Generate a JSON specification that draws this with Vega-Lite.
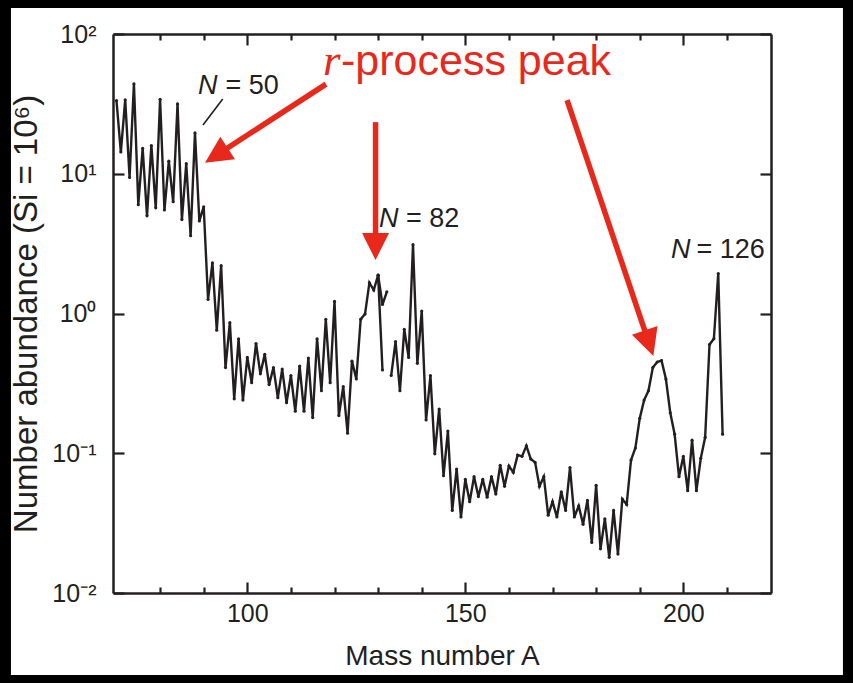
{
  "$schema": "https://vega.github.io/schema/vega-lite/v6.json",
  "width": 658,
  "height": 559,
  "autosize": "none",
  "padding": {"left": 113, "top": 34, "right": 82, "bottom": 90},
  "background": "#000000",
  "config": {
    "view": {"stroke": null, "fill": "#ffffff"},
    "font": "Liberation Sans",
    "axis": {"grid": false, "labelOverlap": false, "labelFlush": false, "tickColor": "#231f20", "tickWidth": 2.2, "domainColor": "#231f20", "domainWidth": 2.5, "labelColor": "#231f20", "titleColor": "#231f20", "labelFont": "Liberation Sans", "titleFont": "Liberation Sans", "titleFontWeight": "normal", "labelFontSize": 25, "titleFontSize": 28}
  },
  "resolve": {"axis": {"x": "independent", "y": "independent"}},
  "datasets": {
    "abund": [
      {"A": 70, "v": 33.4, "seg": "a"}, {"A": 71, "v": 14.3, "seg": "a"}, {"A": 72, "v": 33.8, "seg": "a"}, {"A": 73, "v": 9.4, "seg": "a"},
      {"A": 74, "v": 44, "seg": "a"}, {"A": 75, "v": 6.0, "seg": "a"}, {"A": 76, "v": 15.2, "seg": "a"}, {"A": 77, "v": 5.0, "seg": "a"},
      {"A": 78, "v": 15.9, "seg": "a"}, {"A": 79, "v": 5.7, "seg": "a"}, {"A": 80, "v": 34.1, "seg": "a"}, {"A": 81, "v": 5.5, "seg": "a"},
      {"A": 82, "v": 12.3, "seg": "a"}, {"A": 83, "v": 6.3, "seg": "a"}, {"A": 84, "v": 31.6, "seg": "a"}, {"A": 85, "v": 4.7, "seg": "a"},
      {"A": 86, "v": 11.8, "seg": "a"}, {"A": 87, "v": 3.6, "seg": "a"}, {"A": 88, "v": 19.6, "seg": "a"}, {"A": 89, "v": 4.6, "seg": "a"},
      {"A": 90, "v": 5.8, "seg": "a"}, {"A": 91, "v": 1.26, "seg": "a"}, {"A": 92, "v": 2.3, "seg": "a"}, {"A": 93, "v": 0.76, "seg": "a"},
      {"A": 94, "v": 2.2, "seg": "a"}, {"A": 95, "v": 0.41, "seg": "a"}, {"A": 96, "v": 0.86, "seg": "a"}, {"A": 97, "v": 0.245, "seg": "a"},
      {"A": 98, "v": 0.66, "seg": "a"}, {"A": 99, "v": 0.24, "seg": "a"}, {"A": 100, "v": 0.485, "seg": "a"}, {"A": 101, "v": 0.32, "seg": "a"},
      {"A": 102, "v": 0.61, "seg": "a"}, {"A": 103, "v": 0.37, "seg": "a"}, {"A": 104, "v": 0.51, "seg": "a"}, {"A": 105, "v": 0.31, "seg": "a"},
      {"A": 106, "v": 0.41, "seg": "a"}, {"A": 107, "v": 0.25, "seg": "a"}, {"A": 108, "v": 0.40, "seg": "a"}, {"A": 109, "v": 0.23, "seg": "a"},
      {"A": 110, "v": 0.36, "seg": "a"}, {"A": 111, "v": 0.20, "seg": "a"}, {"A": 112, "v": 0.42, "seg": "a"}, {"A": 113, "v": 0.20, "seg": "a"},
      {"A": 114, "v": 0.48, "seg": "a"}, {"A": 115, "v": 0.18, "seg": "a"}, {"A": 116, "v": 0.66, "seg": "a"}, {"A": 117, "v": 0.28, "seg": "a"},
      {"A": 118, "v": 0.91, "seg": "a"}, {"A": 119, "v": 0.32, "seg": "a"}, {"A": 120, "v": 1.22, "seg": "a"}, {"A": 121, "v": 0.186, "seg": "a"},
      {"A": 122, "v": 0.30, "seg": "a"}, {"A": 123, "v": 0.139, "seg": "a"}, {"A": 124, "v": 0.456, "seg": "a"}, {"A": 125, "v": 0.34, "seg": "a"},
      {"A": 126, "v": 0.91, "seg": "a"}, {"A": 127, "v": 0.99, "seg": "a"}, {"A": 128, "v": 1.66, "seg": "a"}, {"A": 129, "v": 1.47, "seg": "a"},
      {"A": 130, "v": 1.88, "seg": "a"}, {"A": 131, "v": 0.394, "seg": "a"},
      {"A": 130, "v": 1.88, "seg": "b"}, {"A": 131, "v": 1.16, "seg": "b"}, {"A": 132, "v": 1.43, "seg": "b"},
      {"A": 133, "v": 0.36, "seg": "c"}, {"A": 134, "v": 0.63, "seg": "c"}, {"A": 135, "v": 0.28, "seg": "c"}, {"A": 136, "v": 0.77, "seg": "c"},
      {"A": 137, "v": 0.485, "seg": "c"}, {"A": 138, "v": 3.11, "seg": "c"}, {"A": 139, "v": 0.44, "seg": "c"}, {"A": 140, "v": 1.04, "seg": "c"},
      {"A": 141, "v": 0.173, "seg": "c"}, {"A": 142, "v": 0.36, "seg": "c"}, {"A": 143, "v": 0.099, "seg": "c"}, {"A": 144, "v": 0.207, "seg": "c"},
      {"A": 145, "v": 0.069, "seg": "c"}, {"A": 146, "v": 0.144, "seg": "c"}, {"A": 147, "v": 0.039, "seg": "c"}, {"A": 148, "v": 0.077, "seg": "c"},
      {"A": 149, "v": 0.035, "seg": "c"}, {"A": 150, "v": 0.065, "seg": "c"}, {"A": 151, "v": 0.045, "seg": "c"}, {"A": 152, "v": 0.068, "seg": "c"},
      {"A": 153, "v": 0.049, "seg": "c"}, {"A": 154, "v": 0.065, "seg": "c"}, {"A": 155, "v": 0.0485, "seg": "c"}, {"A": 156, "v": 0.068, "seg": "c"},
      {"A": 157, "v": 0.051, "seg": "c"}, {"A": 158, "v": 0.082, "seg": "c"}, {"A": 159, "v": 0.058, "seg": "c"}, {"A": 160, "v": 0.081, "seg": "c"},
      {"A": 161, "v": 0.073, "seg": "c"}, {"A": 162, "v": 0.097, "seg": "c"}, {"A": 163, "v": 0.095, "seg": "c"}, {"A": 164, "v": 0.113, "seg": "c"},
      {"A": 165, "v": 0.091, "seg": "c"}, {"A": 166, "v": 0.086, "seg": "c"}, {"A": 167, "v": 0.058, "seg": "c"}, {"A": 168, "v": 0.068, "seg": "c"},
      {"A": 169, "v": 0.036, "seg": "c"}, {"A": 170, "v": 0.045, "seg": "c"}, {"A": 171, "v": 0.035, "seg": "c"}, {"A": 172, "v": 0.053, "seg": "c"},
      {"A": 173, "v": 0.039, "seg": "c"}, {"A": 174, "v": 0.079, "seg": "c"}, {"A": 175, "v": 0.035, "seg": "c"}, {"A": 176, "v": 0.042, "seg": "c"},
      {"A": 177, "v": 0.031, "seg": "c"}, {"A": 178, "v": 0.046, "seg": "c"}, {"A": 179, "v": 0.023, "seg": "c"}, {"A": 180, "v": 0.059, "seg": "c"},
      {"A": 181, "v": 0.0207, "seg": "c"}, {"A": 182, "v": 0.034, "seg": "c"}, {"A": 183, "v": 0.018, "seg": "c"}, {"A": 184, "v": 0.039, "seg": "c"},
      {"A": 185, "v": 0.019, "seg": "c"}, {"A": 186, "v": 0.047, "seg": "c"}, {"A": 187, "v": 0.043, "seg": "c"}, {"A": 188, "v": 0.0895, "seg": "c"},
      {"A": 189, "v": 0.109, "seg": "c"}, {"A": 190, "v": 0.178, "seg": "c"}, {"A": 191, "v": 0.24, "seg": "c"}, {"A": 192, "v": 0.28, "seg": "c"},
      {"A": 193, "v": 0.41, "seg": "c"}, {"A": 194, "v": 0.45, "seg": "c"}, {"A": 195, "v": 0.46, "seg": "c"}, {"A": 196, "v": 0.34, "seg": "c"},
      {"A": 197, "v": 0.195, "seg": "c"}, {"A": 198, "v": 0.137, "seg": "c"}, {"A": 199, "v": 0.068, "seg": "c"}, {"A": 200, "v": 0.095, "seg": "c"},
      {"A": 201, "v": 0.054, "seg": "c"}, {"A": 202, "v": 0.124, "seg": "c"}, {"A": 203, "v": 0.054, "seg": "c"}, {"A": 204, "v": 0.092, "seg": "c"},
      {"A": 205, "v": 0.13, "seg": "c"}, {"A": 206, "v": 0.60, "seg": "c"}, {"A": 207, "v": 0.66, "seg": "c"}, {"A": 208, "v": 1.93, "seg": "c"},
      {"A": 209, "v": 0.137, "seg": "c"}
    ],
    "panel": [{"x1": 45.8, "x2": 236.6, "y1": 153.5, "y2": 0.00259}],
    "leader": [{"A1": 89.84, "v1": 22.3, "A2": 94.36, "v2": 34.3}],
    "shafts": [
      {"A1": 118.05, "v1": 43.8, "A2": 94.15, "v2": 14.36},
      {"A1": 129.41, "v1": 23.4, "A2": 129.41, "v2": 3.36},
      {"A1": 173.33, "v1": 33.7, "A2": 191.65, "v2": 0.678}
    ],
    "heads": [
      {"id": "a", "A": 90.3, "v": 12.0},
      {"id": "b", "A": 129.41, "v": 2.41},
      {"id": "c", "A": 193.12, "v": 0.497}
    ],
    "nlab": [
      {"A": 88.7, "v": 37.2, "t": "N"},
      {"A": 130.2, "v": 4.18, "t": "N"},
      {"A": 197.18, "v": 2.49, "t": "N"}
    ],
    "nval": [
      {"A": 95.0, "v": 37.2, "t": "= 50"},
      {"A": 136.4, "v": 4.18, "t": "= 82"},
      {"A": 203.0, "v": 2.49, "t": "= 126"}
    ],
    "rlab": [{"A": 117.37, "v": 50.9, "t": "r"}],
    "plab": [{"A": 121.49, "v": 50.9, "t": "-process peak"}]
  },
  "layer": [
    {
      "data": {"name": "panel"},
      "mark": {"type": "rect", "color": "#ffffff"},
      "encoding": {
        "x": {"field": "x1", "type": "quantitative", "scale": {"domain": [69.2, 220.1], "nice": false, "zero": false}, "axis": null},
        "x2": {"field": "x2"},
        "y": {"field": "y1", "type": "quantitative", "scale": {"type": "log", "domain": [0.01, 100], "nice": false}, "axis": null},
        "y2": {"field": "y2"}
      }
    },
    {
      "data": {"name": "abund"},
      "mark": {"type": "line", "color": "#231f20", "strokeWidth": 2.4, "strokeJoin": "miter"},
      "encoding": {
        "x": {"field": "A", "type": "quantitative", "scale": {"domain": [69.2, 220.1], "nice": false, "zero": false},
          "axis": {"orient": "bottom", "zindex": 1, "values": [100, 150, 200], "tickSize": -11, "labelPadding": 19, "title": "Mass number A", "titlePadding": 16}},
        "y": {"field": "v", "type": "quantitative", "scale": {"type": "log", "domain": [0.01, 100], "nice": false},
          "axis": {"orient": "left", "zindex": 1, "values": [0.01, 0.1, 1, 10, 100], "tickSize": -11, "labelPadding": 28,
            "labelExpr": "datum.value > 50 ? '10²' : datum.value > 5 ? '10¹' : datum.value > 0.5 ? '10⁰' : datum.value > 0.05 ? '10⁻¹' : '10⁻²'",
            "title": "Number abundance (Si = 10⁶)", "titleFontSize": 33, "titlePadding": 8}},
        "detail": {"field": "seg", "type": "nominal"}
      }
    },
    {
      "data": {"name": "abund"},
      "mark": {"type": "point", "filled": true, "size": 10, "color": "#231f20", "opacity": 1},
      "encoding": {
        "x": {"field": "A", "type": "quantitative", "scale": {"domain": [69.2, 220.1], "nice": false, "zero": false},
          "axis": {"orient": "top", "zindex": 1, "values": [100, 150, 200], "tickSize": -11, "labels": false, "title": null}},
        "y": {"field": "v", "type": "quantitative", "scale": {"type": "log", "domain": [0.01, 100], "nice": false},
          "axis": {"orient": "right", "zindex": 1, "values": [0.01, 0.1, 1, 10, 100], "tickSize": -11, "labels": false, "title": null}}
      }
    },
    {
      "data": {"name": "leader"},
      "mark": {"type": "rule", "color": "#231f20", "strokeWidth": 1.6},
      "encoding": {
        "x": {"field": "A1", "type": "quantitative", "scale": {"domain": [69.2, 220.1], "nice": false, "zero": false},
          "axis": {"orient": "bottom", "zindex": 1, "values": [80, 90, 110, 120, 130, 140, 160, 170, 180, 190, 210], "tickSize": -6, "labels": false, "domain": false, "title": null}},
        "x2": {"field": "A2"},
        "y": {"field": "v1", "type": "quantitative", "scale": {"type": "log", "domain": [0.01, 100], "nice": false}, "axis": null},
        "y2": {"field": "v2"}
      }
    },
    {
      "data": {"name": "shafts"},
      "mark": {"type": "rule", "color": "#e9281c", "strokeWidth": 5.5},
      "encoding": {
        "x": {"field": "A1", "type": "quantitative", "scale": {"domain": [69.2, 220.1], "nice": false, "zero": false},
          "axis": {"orient": "top", "zindex": 1, "values": [80, 90, 110, 120, 130, 140, 160, 170, 180, 190, 210], "tickSize": -6, "labels": false, "domain": false, "title": null}},
        "x2": {"field": "A2"},
        "y": {"field": "v1", "type": "quantitative", "scale": {"type": "log", "domain": [0.01, 100], "nice": false}, "axis": null},
        "y2": {"field": "v2"}
      }
    },
    {
      "data": {"name": "heads"},
      "transform": [{"filter": "datum.id == 'a'"}],
      "mark": {"type": "point", "shape": "M0,0L1,2L-1,2Z", "size": 729, "filled": true, "color": "#e9281c", "opacity": 1, "angle": 237},
      "encoding": {
        "x": {"field": "A", "type": "quantitative", "scale": {"domain": [69.2, 220.1], "nice": false, "zero": false}, "axis": null},
        "y": {"field": "v", "type": "quantitative", "scale": {"type": "log", "domain": [0.01, 100], "nice": false}, "axis": null}
      }
    },
    {
      "data": {"name": "heads"},
      "transform": [{"filter": "datum.id == 'b'"}],
      "mark": {"type": "point", "shape": "M0,0L1,2L-1,2Z", "size": 729, "filled": true, "color": "#e9281c", "opacity": 1, "angle": 180},
      "encoding": {
        "x": {"field": "A", "type": "quantitative", "scale": {"domain": [69.2, 220.1], "nice": false, "zero": false}, "axis": null},
        "y": {"field": "v", "type": "quantitative", "scale": {"type": "log", "domain": [0.01, 100], "nice": false}, "axis": null}
      }
    },
    {
      "data": {"name": "heads"},
      "transform": [{"filter": "datum.id == 'c'"}],
      "mark": {"type": "point", "shape": "M0,0L1,2L-1,2Z", "size": 729, "filled": true, "color": "#e9281c", "opacity": 1, "angle": 161.4},
      "encoding": {
        "x": {"field": "A", "type": "quantitative", "scale": {"domain": [69.2, 220.1], "nice": false, "zero": false}, "axis": null},
        "y": {"field": "v", "type": "quantitative", "scale": {"type": "log", "domain": [0.01, 100], "nice": false}, "axis": null}
      }
    },
    {
      "data": {"name": "nlab"},
      "mark": {"type": "text", "align": "left", "baseline": "alphabetic", "font": "Liberation Sans", "fontStyle": "italic", "fontSize": 27, "color": "#231f20"},
      "encoding": {
        "x": {"field": "A", "type": "quantitative", "scale": {"domain": [69.2, 220.1], "nice": false, "zero": false}, "axis": null},
        "y": {"field": "v", "type": "quantitative", "scale": {"type": "log", "domain": [0.01, 100], "nice": false}, "axis": null},
        "text": {"field": "t"}
      }
    },
    {
      "data": {"name": "nval"},
      "mark": {"type": "text", "align": "left", "baseline": "alphabetic", "font": "Liberation Sans", "fontSize": 27, "color": "#231f20"},
      "encoding": {
        "x": {"field": "A", "type": "quantitative", "scale": {"domain": [69.2, 220.1], "nice": false, "zero": false}, "axis": null},
        "y": {"field": "v", "type": "quantitative", "scale": {"type": "log", "domain": [0.01, 100], "nice": false}, "axis": null},
        "text": {"field": "t"}
      }
    },
    {
      "data": {"name": "rlab"},
      "mark": {"type": "text", "align": "left", "baseline": "alphabetic", "font": "Liberation Serif", "fontStyle": "italic", "fontSize": 45, "color": "#e9281c"},
      "encoding": {
        "x": {"field": "A", "type": "quantitative", "scale": {"domain": [69.2, 220.1], "nice": false, "zero": false}, "axis": null},
        "y": {"field": "v", "type": "quantitative", "scale": {"type": "log", "domain": [0.01, 100], "nice": false}, "axis": null},
        "text": {"field": "t"}
      }
    },
    {
      "data": {"name": "plab"},
      "mark": {"type": "text", "align": "left", "baseline": "alphabetic", "font": "Liberation Sans", "fontSize": 43, "color": "#e9281c"},
      "encoding": {
        "x": {"field": "A", "type": "quantitative", "scale": {"domain": [69.2, 220.1], "nice": false, "zero": false}, "axis": null},
        "y": {"field": "v", "type": "quantitative", "scale": {"type": "log", "domain": [0.01, 100], "nice": false}, "axis": null},
        "text": {"field": "t"}
      }
    }
  ]
}
